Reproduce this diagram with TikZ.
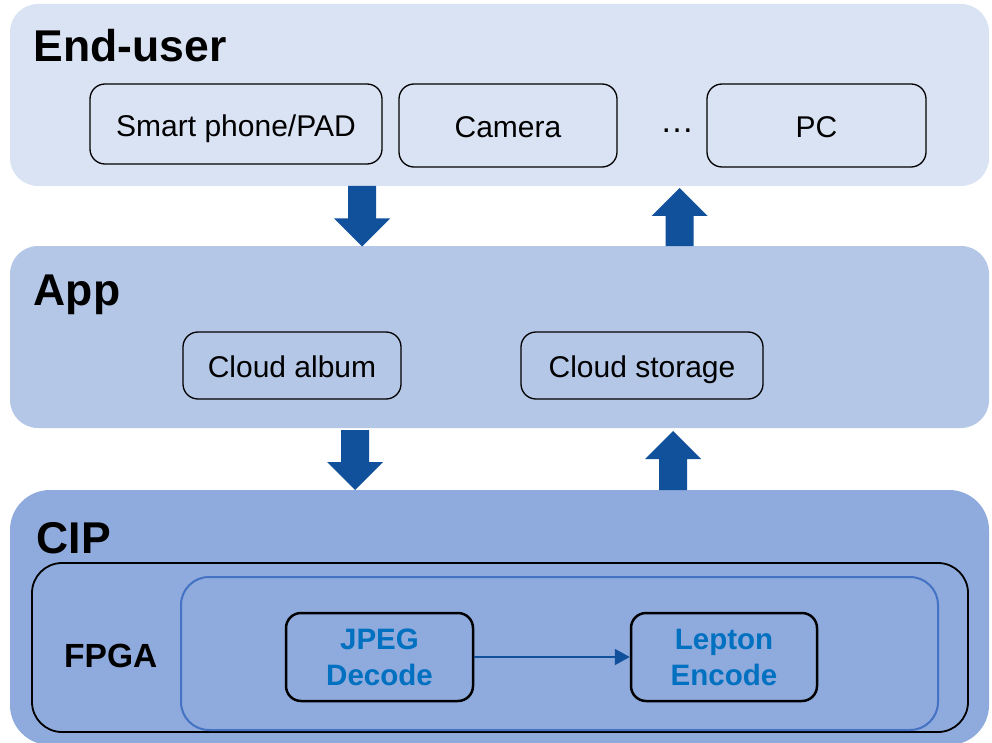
\documentclass[tikz,border=0pt]{standalone}
\usepackage{fontspec}
\setmainfont{Liberation Sans}
\usetikzlibrary{arrows.meta}

\definecolor{tierA}{HTML}{DAE3F3}
\definecolor{tierB}{HTML}{B4C7E7}
\definecolor{tierC}{HTML}{8FAADC}
\definecolor{flowblue}{HTML}{11509A}
\definecolor{fpgablue}{HTML}{4472C4}
\definecolor{procblue}{HTML}{0070C0}

% block arrow pointing down: centre x, tail y, tip y
\newcommand\blockdown[3]{%
  \fill[flowblue] (#1-14,#2) -- (#1+14,#2) -- (#1+14,#3-28) -- (#1+28,#3-28)
    -- (#1,#3) -- (#1-28,#3-28) -- (#1-14,#3-28) -- cycle;}
% block arrow pointing up: centre x, tail y, tip y
\newcommand\blockup[3]{%
  \fill[flowblue] (#1-14,#2) -- (#1+14,#2) -- (#1+14,#3+28) -- (#1+28,#3+28)
    -- (#1,#3) -- (#1-28,#3+28) -- (#1-14,#3+28) -- cycle;}

\begin{document}
\begin{tikzpicture}[x=1pt,y=-1pt,
  tier/.style={draw=none, inner sep=0pt, rounded corners=#1},
  tier/.default=28pt,
  tiertitle/.style={anchor=base west, inner sep=0pt,
    font=\bfseries\fontsize{44.5}{50}\selectfont},
  itembox/.style={draw=black, line width=1.3pt, rounded corners=15pt,
    inner sep=0pt, text height=24.5pt, text depth=0pt,
    font=\fontsize{30}{35}\selectfont},
  procbox/.style={draw=black, line width=2.5pt, rounded corners=15pt,
    inner sep=0pt, align=center, text=procblue, text depth=-3pt,
    minimum width=187pt, minimum height=88pt,
    font=\bfseries\fontsize{29.5}{36}\selectfont},
]
\useasboundingbox (0,0) rectangle (992,743);

% the three tiers
\node[tier, fill=tierA, minimum width=979pt, minimum height=182pt] (enduser) at (499.5,95) {};
\node[tier, fill=tierB, minimum width=979pt, minimum height=182pt] (app) at (499.5,337) {};
\node[tier=40pt, fill=tierC, minimum width=979pt, minimum height=255pt] (cip) at (499.5,617.5) {};

\node[tiertitle] (enduserlbl) at (33.5,62) {End-user};
\node[tiertitle] (applbl) at (33.5,305) {App};
\node[tiertitle] (ciplbl) at (36.5,553) {CIP};

% end-user devices
\node[itembox, minimum width=292pt, minimum height=80pt] (phone) at (236,124) {Smart phone/PAD};
\node[itembox, minimum width=218pt, minimum height=83pt] (camera) at (508,125.5) {Camera};
\node[anchor=base, inner sep=0pt, font=\fontsize{34}{36}\selectfont] (dots) at (677,132.5) {…};
\node[itembox, minimum width=219pt, minimum height=83pt] (pc) at (816.5,125.5) {PC};

% applications
\node[itembox, minimum width=218pt, minimum height=67pt] (album) at (292,365.5) {Cloud album};
\node[itembox, minimum width=242pt, minimum height=67pt] (storage) at (642,365.5) {Cloud storage};

% FPGA block
\node[draw=black, line width=1.8pt, rounded corners=30pt, inner sep=0pt,
  minimum width=936pt, minimum height=169pt] (fpga) at (500,647.5) {};
\node[draw=fpgablue, line width=2pt, rounded corners=28pt, inner sep=0pt,
  minimum width=757pt, minimum height=153pt] (core) at (559.5,653.5) {};
\node[anchor=base west, inner sep=0pt, font=\bfseries\fontsize{33.5}{38}\selectfont]
  (fpgalbl) at (64,667) {FPGA};

\node[procbox] (jpeg) at (379.5,657) {JPEG\\Decode};
\node[procbox, minimum width=186pt] (lepton) at (724,657) {Lepton\\Encode};
\draw[flowblue, line width=2pt, -{Triangle[length=15pt,width=16pt]}] (jpeg) -- (lepton);

% data flow between tiers
\blockdown{362}{186}{246.5}
\blockup{679.5}{246}{188}
\blockdown{355}{430}{490}
\blockup{673}{490}{431}
\end{tikzpicture}
\end{document}
